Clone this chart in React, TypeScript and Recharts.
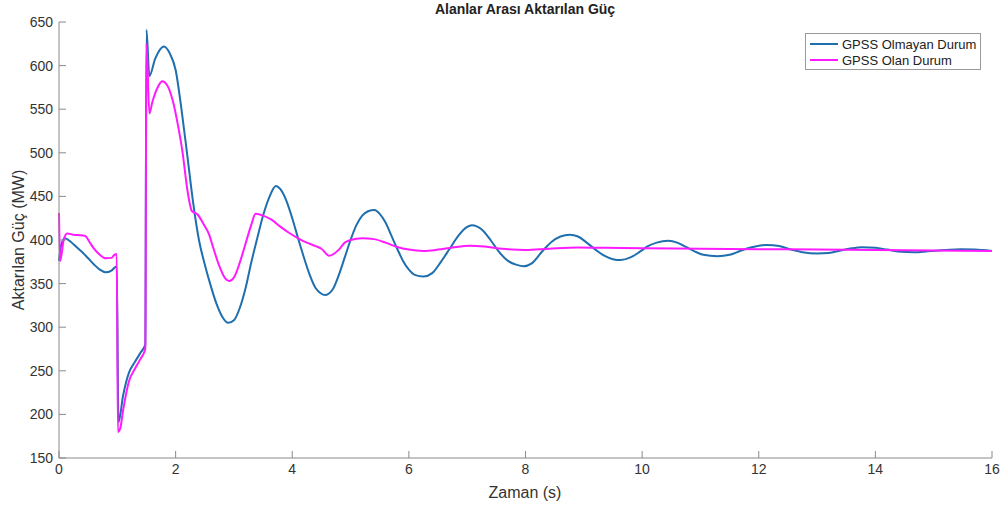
import { LineChart, Line, XAxis, YAxis } from 'recharts'

// time (s) and transferred power (MW)
const blueT = [
  0, 0.03, 0.1, 0.2, 0.3, 0.4, 0.5, 0.6, 0.7, 0.8, 0.9, 0.99, 1.02, 1.1, 1.2, 1.3, 1.4, 1.48,
  1.5, 1.55, 1.65, 1.8, 1.9, 2.0, 2.1, 2.2, 2.3, 2.4, 2.5, 2.6, 2.7, 2.8, 2.9, 3.0, 3.1, 3.2,
  3.3, 3.4, 3.5, 3.6, 3.72, 3.8, 3.9, 4.0, 4.1, 4.2, 4.3, 4.4, 4.57, 4.7, 4.8, 4.9, 5.0,
  5.1, 5.2, 5.3, 5.41, 5.5, 5.6, 5.7, 5.8, 5.9, 6.0, 6.1, 6.25, 6.4, 6.55, 6.7, 6.85, 7.0, 7.08,
  7.25, 7.4, 7.55, 7.7, 7.85, 7.97, 8.1, 8.3, 8.45, 8.6, 8.76, 8.9, 9.05, 9.2, 9.35, 9.5,
  9.63, 9.8, 9.95, 10.1, 10.25, 10.45, 10.6, 10.75, 10.9, 11.05, 11.29, 11.5, 11.7, 11.9,
  12.14, 12.35, 12.55, 12.75, 13.0, 13.2, 13.4, 13.6, 13.77, 14.0, 14.2, 14.45, 14.66, 14.9,
  15.2, 15.46, 15.7, 16,
]
const blueP = [
  376, 392, 402, 398, 392, 386, 379, 372, 366, 363, 365, 370, 191, 222, 248, 260, 271, 280,
  641, 588, 608, 622, 614, 595, 550, 497, 443, 400, 372, 348, 327, 312, 305, 308, 322, 345,
  375, 402, 428, 448, 462, 458, 445, 425, 402, 380, 360, 345, 337, 344, 360, 380, 400,
  417, 428, 433, 434.5, 430, 420, 405, 390, 376, 366, 360, 358, 362, 375, 390, 405, 415, 417,
  412, 400, 386, 376, 371.5, 370, 373, 388, 398, 404, 406, 404, 397, 389, 382, 378,
  377, 380, 386, 393, 397, 399, 397, 392, 387, 383, 381.5, 383, 388, 392,
  394.3, 393, 389, 386, 384.5, 385, 388, 390.5, 391.6, 391, 389, 386.5, 386, 387,
  388.5, 389.4, 389, 387.5,
]

const pinkT = [
  0, 0.02, 0.08, 0.14, 0.25, 0.35, 0.45, 0.52, 0.6, 0.7, 0.8, 0.9, 0.95, 0.99, 1.01, 1.05,
  1.1, 1.2, 1.3, 1.4, 1.48, 1.5, 1.55, 1.6, 1.7, 1.77, 1.85, 1.95, 2.05, 2.12, 2.2, 2.28,
  2.38, 2.48, 2.57, 2.65, 2.75, 2.85, 2.92, 3.0, 3.1, 3.2, 3.3, 3.37, 3.5, 3.65, 3.8, 3.95,
  4.1, 4.25, 4.4, 4.5, 4.63, 4.8, 4.9, 5.0, 5.2, 5.4, 5.6, 5.8, 6.0, 6.25, 6.5, 6.75,
  7.05, 7.3, 7.6, 8.0, 8.4, 8.9, 9.4, 10, 11, 12, 13, 14, 15, 16,
]
const pinkP = [
  431, 376, 400, 407.5, 406, 405.5, 404.5, 398, 390, 383, 379, 379.5, 383, 384, 180, 184,
  205, 238, 252, 264, 275, 625, 545, 558, 576, 582, 578, 560, 528, 500, 458, 433,
  429, 418, 407, 390, 370, 356, 353, 357, 374, 396, 418, 430, 428, 423, 415, 408,
  402, 397, 393, 390, 382, 389, 397, 400, 402, 401, 397, 392, 389, 387.5, 389, 391.5,
  393.5, 392.5, 390, 388.5, 390, 391.5, 391, 390.5, 390, 389.5, 389, 388.5, 388, 387.5,
]

const xTicks = [0, 2, 4, 6, 8, 10, 12, 14, 16]
const yTicks = [150, 200, 250, 300, 350, 400, 450, 500, 550, 600, 650]

const seriesNames = ['GPSS Olmayan Durum', 'GPSS Olan Durum']
const seriesColors = ['#1f6fae', '#ff1aff']

const blueData = blueT.map((t, i) => ({ t, p: blueP[i] }))
const pinkData = pinkT.map((t, i) => ({ t, p: pinkP[i] }))

const FONT = '"Liberation Sans", Arial, sans-serif'
const AXIS = '#8a8a8a'
const TEXT = '#333'

export default function App() {
  const tickStyle = { fontSize: 14, fill: TEXT, fontFamily: FONT }
  return (
    <div style={{ position: 'absolute', left: 0, top: 0, width: 1001, height: 511, background: '#fff', fontFamily: FONT }}>
      <div style={{ position: 'absolute', left: 58, width: 934, top: 1, textAlign: 'center', fontSize: 14, fontWeight: 'bold', color: '#222' }}>
        Alanlar Arası Aktarılan Güç
      </div>

      <LineChart width={1001} height={511} margin={{ top: 22, right: 9, bottom: 23, left: 19 }}>
        <XAxis
          dataKey="t"
          type="number"
          domain={[0, 16]}
          ticks={xTicks}
          allowDuplicatedCategory={false}
          stroke={AXIS}
          tickSize={-7}
          tickMargin={13}
          tick={tickStyle}
          height={30}
        />
        <XAxis xAxisId="top" orientation="top" type="number" domain={[0, 16]} ticks={xTicks}
          stroke={AXIS} tickSize={-7} tickFormatter={() => ''} height={0} />
        <YAxis
          type="number"
          domain={[150, 650]}
          ticks={yTicks}
          stroke={AXIS}
          tickSize={-7}
          tickMargin={13}
          tick={tickStyle}
          width={40}
        />
        <YAxis yAxisId="right" orientation="right" type="number" domain={[150, 650]} ticks={yTicks}
          stroke={AXIS} tickSize={-7} tickFormatter={() => ''} width={0} />
        <Line data={blueData} dataKey="p" name={seriesNames[0]} type="monotone" stroke={seriesColors[0]}
          strokeWidth={2} dot={false} isAnimationActive={false} />
        <Line data={pinkData} dataKey="p" name={seriesNames[1]} type="monotone" stroke={seriesColors[1]}
          strokeWidth={2} dot={false} isAnimationActive={false} />
      </LineChart>

      {/* axis titles */}
      <div style={{ position: 'absolute', left: 425, width: 200, top: 484, textAlign: 'center', fontSize: 16, color: TEXT }}>
        Zaman (s)
      </div>
      <div style={{ position: 'absolute', left: 19 - 100, top: 240 - 10, width: 200, height: 20, lineHeight: '20px', textAlign: 'center', fontSize: 16, color: TEXT, transform: 'rotate(-90deg)' }}>
        Aktarılan Güç (MW)
      </div>

      {/* legend box */}
      <div style={{ position: 'absolute', left: 805, top: 33, width: 174, height: 35, border: '1px solid #9a9a9a', background: '#fff', fontSize: 13, color: '#222' }}>
        {seriesNames.map((name, i) => (
          <div key={name} style={{ display: 'flex', alignItems: 'center', height: 16, marginTop: i === 0 ? 2 : 0 }}>
            <div style={{ width: 28, height: 2, background: seriesColors[i], marginLeft: 4, marginRight: 4 }} />
            <span>{name}</span>
          </div>
        ))}
      </div>
    </div>
  )
}
